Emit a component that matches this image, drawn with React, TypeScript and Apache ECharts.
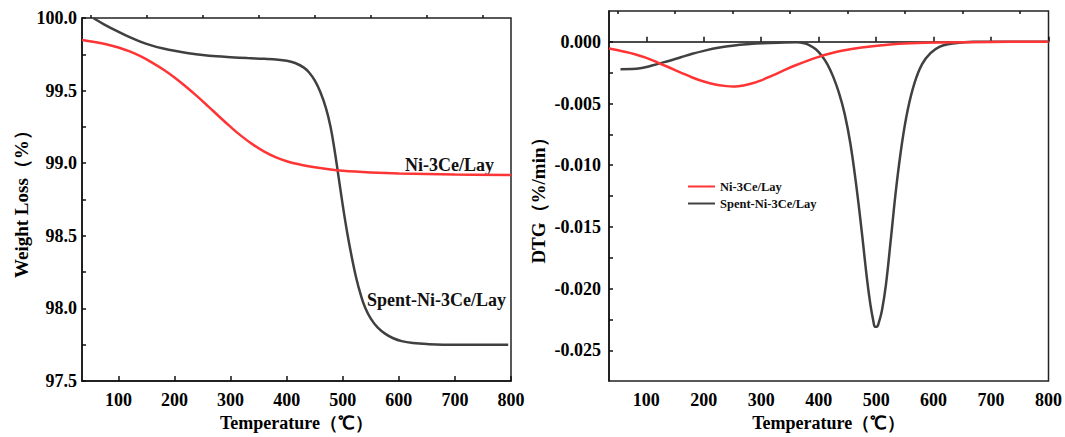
import React, { useEffect, useRef } from "react";
import * as echarts from "echarts";

// ---- TG (left) ----
const tgSpentT = [55, 75, 100, 120, 140, 160, 180, 200, 225, 250, 275, 300, 330, 360, 385, 400, 415, 430, 440, 450, 460, 470, 478, 485, 492, 500, 508, 516, 524, 532, 540, 550, 562, 576, 590, 605, 625, 650, 700, 795];
const tgSpentW = [100.0, 99.955, 99.905, 99.868, 99.836, 99.81, 99.79, 99.774, 99.758, 99.745, 99.736, 99.73, 99.724, 99.719, 99.713, 99.705, 99.69, 99.66, 99.625, 99.57, 99.49, 99.38, 99.255, 99.1, 98.92, 98.71, 98.52, 98.355, 98.21, 98.095, 98.005, 97.93, 97.87, 97.825, 97.795, 97.775, 97.762, 97.755, 97.75, 97.75];
const tgFreshT = [35, 60, 80, 100, 120, 140, 160, 180, 200, 220, 240, 260, 280, 300, 320, 340, 360, 380, 400, 425, 450, 475, 500, 550, 600, 700, 800];
const tgFreshW = [99.848, 99.833, 99.817, 99.797, 99.77, 99.735, 99.693, 99.645, 99.59, 99.528, 99.462, 99.392, 99.32, 99.25, 99.185, 99.128, 99.08, 99.042, 99.014, 98.99, 98.972, 98.958, 98.948, 98.937, 98.93, 98.923, 98.919];

// ---- DTG (right) ----
const dtgSpentT = [55, 75, 92, 110, 134, 160, 180, 200, 225, 253, 280, 302, 330, 362, 375, 385, 395, 405, 415, 425, 435, 445, 455, 465, 475, 484, 490, 495, 498, 501, 505, 510, 517, 526, 535, 545, 555, 567, 580, 595, 610, 630, 650, 670, 700, 800];
const dtgSpentV = [-0.00222, -0.00221, -0.00212, -0.00192, -0.00161, -0.00125, -0.00097, -0.00073, -0.00048, -0.00029, -0.00018, -0.00012, -0.00007, -0.00003, -0.00012, -0.0003, -0.0006, -0.0011, -0.0018, -0.0028, -0.0041, -0.0058, -0.0082, -0.0115, -0.0154, -0.0192, -0.0213, -0.0226, -0.0231, -0.0231, -0.0227, -0.0218, -0.0197, -0.0158, -0.0118, -0.0082, -0.0055, -0.0033, -0.0018, -0.0009, -0.0004, -0.00015, -0.00005, 0, 0, 0];
const dtgFreshT = [35, 60, 80, 100, 120, 140, 160, 180, 200, 220, 240, 250, 260, 280, 300, 320, 340, 360, 380, 400, 420, 440, 460, 490, 520, 560, 609, 700, 800];
const dtgFreshV = [-0.00054, -0.00078, -0.001, -0.0013, -0.00168, -0.00208, -0.00249, -0.00289, -0.00322, -0.00346, -0.00359, -0.00362, -0.0036, -0.00342, -0.00312, -0.00272, -0.0023, -0.0019, -0.00154, -0.00122, -0.00095, -0.00073, -0.00056, -0.00037, -0.00023, -0.00012, -0.00005, -0.000005, 0];

// ---- ticks ----
const xMajor = [100, 200, 300, 400, 500, 600, 700, 800];
const xMinor = [50, 150, 250, 350, 450, 550, 650, 750];
const tgLabels = [97.5, 98.0, 98.5, 99.0, 99.5, 100.0];
const tgTicks = [97.5, 97.75, 98.0, 98.25, 98.5, 98.75, 99.0, 99.25, 99.5, 99.75, 100.0];
const dtgLabels = [0, -0.005, -0.01, -0.015, -0.02, -0.025];
const dtgTicks = [0, -0.0025, -0.005, -0.0075, -0.01, -0.0125, -0.015, -0.0175, -0.02, -0.0225, -0.025];

const nameFresh = "Ni-3Ce/Lay";
const nameSpent = "Spent-Ni-3Ce/Lay";

const FONT = "'Liberation Serif', 'Times New Roman', serif";
const RED = "#ff3535";
const GRAY = "#404040";

const zip = (a: number[], b: number[]) => a.map((v, i) => [v, b[i]]);

export default function App() {
  const ref = useRef<HTMLDivElement>(null);
  useEffect(() => {
    if (!ref.current) return;
    const chart = echarts.init(ref.current, null, { renderer: "svg" });
    const lbl = { fontFamily: FONT, fontWeight: "bold" as const, fontSize: 18, color: "#000" };
    const axisLine = { show: true, lineStyle: { color: "#111", width: 1.5 } };
    const mkX = (grid: number, minorInside: boolean, nameGap: number) => [
      {
        gridIndex: grid, type: "value", min: 35, max: 800,
        axisLine, splitLine: { show: false },
        axisTick: { show: true, inside: true, length: 5, customValues: xMajor, lineStyle: { color: "#111", width: 1.5 } },
        axisLabel: { ...lbl, margin: 10, customValues: xMajor },
        name: "Temperature（℃）", nameLocation: "middle", nameGap,
        nameTextStyle: { ...lbl, fontSize: 18 },
      },
      {
        gridIndex: grid, type: "value", min: 35, max: 800,
        axisLine: { show: false }, splitLine: { show: false },
        axisTick: { show: true, inside: minorInside, length: 3, customValues: xMinor, lineStyle: { color: "#111", width: 1.5 } },
        axisLabel: { show: false },
      },
    ];
    const line = (color: string) => ({
      type: "line", smooth: 0.4, showSymbol: false,
      lineStyle: { color, width: 2.5 }, itemStyle: { color },
    });
    const option: any = {
      animation: false,
      textStyle: { fontFamily: FONT },
      grid: [
        { left: 82, top: 18, width: 429, height: 367, show: true, borderColor: "#222", borderWidth: 1.5 },
        { left: 609, top: 11, width: 442, height: 373, show: true, borderColor: "#222", borderWidth: 1.5 },
      ],
      xAxis: [...mkX(0, false, 32), ...mkX(1, true, 32)],
      yAxis: [
        {
          gridIndex: 0, type: "value", min: 97.5, max: 100,
          axisLine, splitLine: { show: false },
          axisTick: { show: true, inside: true, length: 4, customValues: tgTicks, lineStyle: { color: "#111", width: 1.5 } },
          axisLabel: { ...lbl, margin: 5, customValues: tgLabels, formatter: (v: number) => v.toFixed(1) },
          name: "Weight Loss（%）", nameLocation: "middle", nameGap: 51,
          nameTextStyle: { ...lbl, fontSize: 19 },
        },
        {
          gridIndex: 1, type: "value", min: -0.0275, max: 0.0025,
          axisLine, splitLine: { show: false },
          axisTick: { show: true, inside: true, length: 4, customValues: dtgTicks, lineStyle: { color: "#111", width: 1.5 } },
          axisLabel: { ...lbl, margin: 8, customValues: dtgLabels, formatter: (v: number) => (Math.abs(v) < 1e-9 ? "0.000" : v.toFixed(3)) },
          name: "DTG（%/min）", nameLocation: "middle", nameGap: 61,
          nameTextStyle: { ...lbl, fontSize: 19 },
        },
      ],
      legend: {
        data: [nameFresh, nameSpent],
        orient: "vertical", left: 683, top: 175,
        itemWidth: 27, itemHeight: 2, itemGap: 4, icon: "rect",
        textStyle: { fontFamily: FONT, fontWeight: "bold", fontSize: 12.5, color: "#111" },
        selectedMode: false,
      },
      graphic: [
        { type: "text", left: 405, top: 156, style: { text: nameFresh, font: `bold 18px ${FONT}`, fill: "#111" } },
        { type: "text", left: 367, top: 291, style: { text: nameSpent, font: `bold 18px ${FONT}`, fill: "#111" } },
      ],
      series: [
        { ...line(GRAY), name: "TG " + nameSpent, xAxisIndex: 0, yAxisIndex: 0, data: zip(tgSpentT, tgSpentW) },
        { ...line(RED), name: "TG " + nameFresh, xAxisIndex: 0, yAxisIndex: 0, data: zip(tgFreshT, tgFreshW) },
        { ...line(GRAY), name: nameSpent, xAxisIndex: 2, yAxisIndex: 1, data: zip(dtgSpentT, dtgSpentV) },
        { ...line(RED), name: nameFresh, xAxisIndex: 2, yAxisIndex: 1, data: zip(dtgFreshT, dtgFreshV) },
      ],
    };
    chart.setOption(option);
    return () => chart.dispose();
  }, []);
  return <div ref={ref} style={{ position: "absolute", left: 0, top: 0, width: 1065, height: 437, background: "#fff" }} />;
}
